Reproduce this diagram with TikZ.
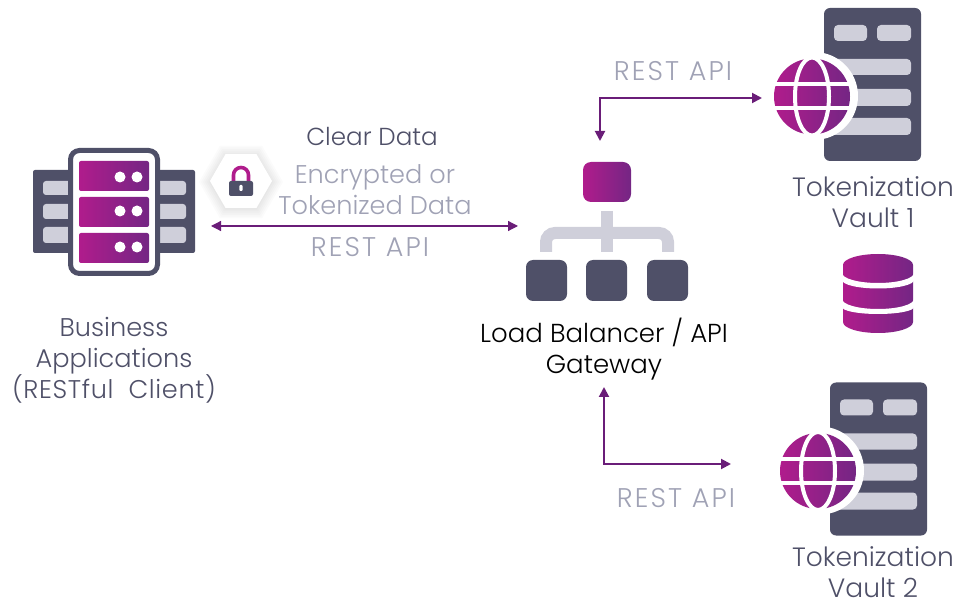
\documentclass[tikz,border=0pt]{standalone}
\usepackage{fontspec}
\setmainfont{Poppins}[UprightFont=* Light]
\usetikzlibrary{shapes.geometric,arrows.meta}
\definecolor{slate}{HTML}{4F5068}
\definecolor{pale}{HTML}{CFCFDA}
\definecolor{haze}{HTML}{A0A2B5}
\definecolor{plum}{HTML}{6A1D78}
\definecolor{magA}{HTML}{B01C8C}
\definecolor{magB}{HTML}{742684}
\tikzset{
  grad/.style={left color=magA,right color=magB,draw=none},
  slatebox/.style={fill=slate,draw=none,rounded corners=7pt,minimum width=41pt,minimum height=41pt,inner sep=0pt},
  hexa/.style={regular polygon,regular polygon sides=6,inner sep=0pt},
  link/.style={draw=plum,line width=2pt,{Triangle[length=10pt,width=10pt]}-{Triangle[length=10pt,width=10pt]}},
  duplex/.style={draw=plum,line width=1.2pt,{Triangle[length=10pt,width=10pt]}-{Triangle[length=10pt,width=10pt]}},
  caption/.style={text=slate,font=\fontsize{25.6}{31}\selectfont,align=center,inner sep=0pt},
  vaultlabel/.style={caption,font=\fontsize{26.5}{31}\selectfont},
  apilabel/.style={text=haze,font=\fontsize{25.6}{31}\selectfont,align=center},
  restlabel/.style={text=haze,font=\fontsize{27}{31}\selectfont\addfontfeature{LetterSpace=8}},
}
\newcommand{\vaultglobe}[2]{%
  \begin{scope}[shift={(#1,#2)}]
    \fill[slate,rounded corners=6pt] (824,8) rectangle (921,161);
    \fill[pale,rounded corners=4pt] (834,25) rectangle (867,41);
    \fill[pale,rounded corners=4pt] (877,25) rectangle (911,41);
    \fill[pale,rounded corners=4pt] (830,59) rectangle (911,75);
    \fill[pale,rounded corners=4pt] (830,89) rectangle (911,106);
    \fill[pale,rounded corners=4pt] (830,118) rectangle (911,135);
    \fill[white] (814,96) circle (44);
    \shade[left color=magA,right color=magB] (812,96.5) circle (38);
    \draw[white,line width=4pt] (812,96.5) ellipse (17 and 39);
    \draw[white,line width=4pt] (774,84.5) -- (850,84.5);
    \draw[white,line width=4pt] (774,108.5) -- (850,108.5);
  \end{scope}}
\begin{document}
\begin{tikzpicture}[x=1pt,y=-1pt]
  \useasboundingbox (0,0) rectangle (956,601);

  % business applications
  \fill[slate,rounded corners=2pt] (33,170) rectangle (195,253);
  \fill[pale,rounded corners=3pt] (43,181) rectangle (186,195);
  \fill[pale,rounded corners=3pt] (43,204) rectangle (186,219);
  \fill[pale,rounded corners=3pt] (43,227) rectangle (186,243);
  \draw[slate,fill=white,line width=5pt,rounded corners=9pt] (70.5,150.5) rectangle (157.5,273.5);
  \shade[grad,rounded corners=2pt] (79,161) rectangle (149,191);
  \shade[grad,rounded corners=2pt] (79,197) rectangle (149,227);
  \shade[grad,rounded corners=2pt] (79,233) rectangle (149,263);
  \fill[white] (120,177) circle (5.5);
  \fill[white] (137,177) circle (5.5);
  \fill[white] (120,211) circle (5.5);
  \fill[white] (137,211) circle (5.5);
  \fill[white] (120,247) circle (5.5);
  \fill[white] (137,247) circle (5.5);

  \node[caption] (apps) at (114,360.5) {Business\\Applications\\{\addfontfeature{LetterSpace=2.5}(RESTful\hspace{15pt}Client)}};

  % lock badge
  \foreach \s in {84,80,76,72,68,64}
    \node[hexa,minimum size=\s pt,fill=black,opacity=.014] (halo\s) at (241,182) {};
  \node[hexa,minimum size=62pt,fill=white] (badge) at (241,181) {};
  \draw[magA,line width=3.6pt] (233.5,182) -- (233.5,175) arc (180:360:7.5) -- (248.5,182);
  \fill[slate,rounded corners=2pt] (229,181) rectangle (253,196);
  \fill[white,rounded corners=1pt] (239.3,185) rectangle (242.7,191);

  % labels of the middle link
  \node[text=slate,font=\fontsize{24.6}{31}\selectfont] (clear) at (372,136) {Clear Data};
  \node[apilabel] (cipher) at (375,190) {Encrypted or\\Tokenized Data};
  \node[restlabel] (restmid) at (370,247) {REST API};

  \coordinate (midL) at (211,226);
  \coordinate (midR) at (518,226);
  \draw[duplex] (midL) -- (midR);

  % load balancer
  \draw[pale,line width=12pt,rounded corners=9pt] (546,252) -- (546,233) -- (668,233) -- (668,252);
  \draw[pale,line width=12pt] (607,211) -- (607,252);
  \node[grad,rounded corners=8pt,minimum width=48pt,minimum height=40pt,inner sep=0pt] (lbtop) at (607,182) {};
  \node[slatebox] (lbA) at (546.5,280.5) {};
  \node[slatebox] (lbB) at (606.5,280.5) {};
  \node[slatebox] (lbC) at (667.5,280.5) {};

  \node[text=black,font=\fontsize{26}{31}\selectfont,align=center] (gateway) at (604,349) {Load Balancer / API\\Gateway};

  % vaults
  \vaultglobe{0}{0}
  \vaultglobe{6}{374.5}
  \node[vaultlabel] (vaultA) at (873,202) {Tokenization\\Vault 1};
  \node[vaultlabel] (vaultB) at (873,572) {Tokenization\\Vault 2};

  % database
  \shade[grad] (843,265) arc (180:360:35 and 11) -- (913,322) arc (0:180:35 and 11) -- cycle;
  \fill[white] (842,273) arc (180:0:36 and 10) -- (914,280) arc (0:180:36 and 8.5) -- cycle;
  \fill[white] (842,299) arc (180:0:36 and 10) -- (914,307) arc (0:180:36 and 7) -- cycle;

  % upper and lower links
  \coordinate (upS) at (600,141);
  \coordinate (upT) at (762,98);
  \draw[link] (upS) |- (upT);
  \node[restlabel] (restup) at (673,71) {REST API};

  \coordinate (lowS) at (604,387);
  \coordinate (lowT) at (731,464);
  \draw[link] (lowS) |- (lowT);
  \node[restlabel] (restlow) at (676,498) {REST API};
\end{tikzpicture}
\end{document}
